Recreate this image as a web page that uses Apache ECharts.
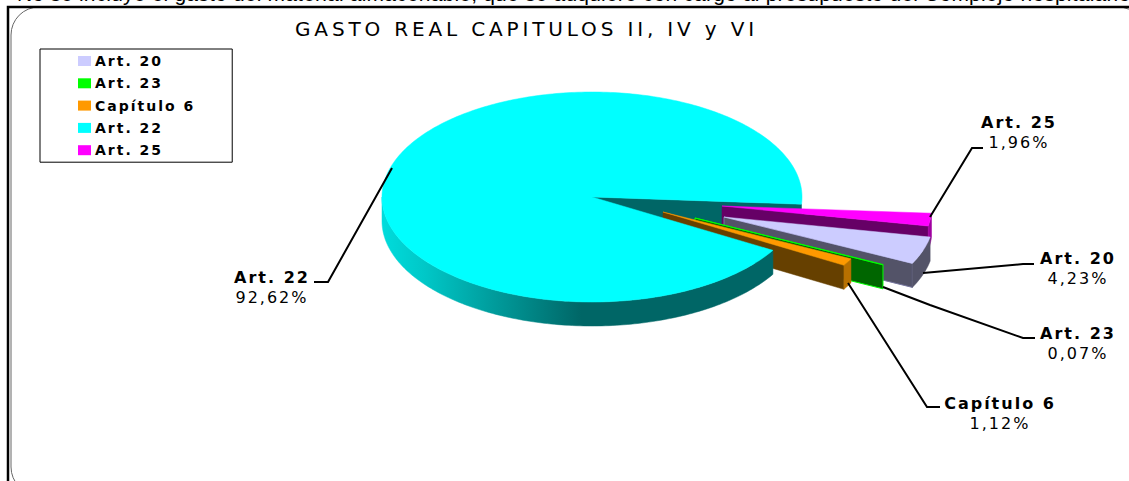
<!DOCTYPE html>
<html>
<head>
<meta charset="utf-8"/>
<title>GASTO REAL CAPITULOS II, IV y VI</title>
<script src="https://cdn.jsdelivr.net/npm/echarts@6/dist/echarts.min.js"></script>
<style>
	html,body{margin:0;padding:0;background:#fff;overflow:hidden;}
	#main{width:1129px;height:481px;}
	#main text{letter-spacing:2px;}
	#main text[style*="20px"]{letter-spacing:3.85px;}
	#main text[style*="21px"]{letter-spacing:0.2px;}
</style>
</head>
<body>
<div id="main"></div>
<script type="text/javascript">
	// data, in legend order (also the clockwise order of the slices)
	var categories = ['Art. 20', 'Art. 23', 'Capítulo 6', 'Art. 22', 'Art. 25'];
	var values = [4.23, 0.07, 1.12, 92.62, 1.96];
	var valueLabels = ['4,23%', '0,07%', '1,12%', '92,62%', '1,96%'];

	// look of each slice
	var topColors = ['#ccccff', '#00ff00', '#ff9900', '#00ffff', '#ff00ff'];
	var cutColors = ['#535368', '#006600', '#664000', '#006666', '#660066'];
	var rimColors = ['#535368', '#006600', '#b87000', '#006666', '#a000a0'];
	var explode = [[132, 20], [103, 21], [71, 15], [0, 0], [130, 9]];

	// pie layout
	var cx = 592, cy = 197, rx = 210, ry = 105, depth = 24;
	var startAngle = 11;

	// leader lines and text of each slice
	var leaders = [
		[[923, 273], [1023, 264], [1034, 264]],
		[[883, 287], [930, 305], [1023, 338], [1035, 338]],
		[[848, 283], [878, 330], [927, 407], [940, 407]],
		[[392, 168], [328, 282], [314, 282]],
		[[930, 217], [972, 148], [983, 148]]
	];
	var labelPos = [[1078, 268], [1078, 343], [1000, 413], [272, 287], [1019, 132]];

	var total = values.reduce(function(a, b){ return a + b; }, 0);
	var angles = [], acc = startAngle;
	values.forEach(function(v){
		angles.push([acc, acc + v / total * 360]);
		acc += v / total * 360;
	});

	function rimPoint(i, deg, down){
		var r = deg * Math.PI / 180;
		return [
			cx + explode[i][0] + rx * Math.cos(r),
			cy + explode[i][1] + ry * Math.sin(r) + (down ? depth : 0)
		];
	}
	function tip(i, down){
		return [cx + explode[i][0], cy + explode[i][1] + (down ? depth : 0)];
	}
	function arc(i, a0, a1, down){
		var pts = [];
		var n = Math.max(2, Math.ceil(Math.abs(a1 - a0)));
		for (var k = 0; k <= n; k++) {
			pts.push(rimPoint(i, a0 + (a1 - a0) * k / n, down));
		}
		return pts;
	}
	function poly(points, fill, z2, stroke){
		return {
			type: 'polygon', z2: z2, silent: true,
			shape: {points: points},
			style: {fill: fill, stroke: stroke || fill, lineWidth: stroke ? 1 : 0.5}
		};
	}
	function cutWall(i, deg, z2, stroke){
		return poly([tip(i), rimPoint(i, deg), rimPoint(i, deg, true), tip(i, true)], cutColors[i], z2, stroke);
	}
	function rimWall(i, a0, a1, z2, fill){
		return poly(arc(i, a0, a1).concat(arc(i, a1, a0, true)), fill || rimColors[i], z2);
	}
	function topFace(i, z2){
		return poly([tip(i)].concat(arc(i, angles[i][0], angles[i][1])), topColors[i], z2);
	}

	var wallShade = {
		type: 'linear', x: cx - rx, y: 0, x2: cx, y2: 0, global: true,
		colorStops: [
			{offset: 0, color: '#00dcdc'},
			{offset: 0.2, color: '#00c8c8'},
			{offset: 0.5, color: '#00a0a0'},
			{offset: 0.95, color: '#006666'},
			{offset: 1, color: '#006666'}
		]
	};

	// each slice gives its faces, the z2 keeps the order of the exploded pieces
	function sliceFaces(i){
		var a = angles[i];
		if (i === 3) {
			return [
				cutWall(i, a[1], 1),
				rimWall(i, a[0], 180, 20, wallShade),
				topFace(i, 21)
			];
		}
		if (i === 4) {
			return [cutWall(i, a[1], 2), rimWall(i, a[0], a[1], 3), topFace(i, 4)];
		}
		if (i === 0) {
			return [
				cutWall(i, a[1], 5, '#7777a0'),
				rimWall(i, a[0], a[1], 6),
				topFace(i, 7)
			];
		}
		if (i === 1) {
			return [cutWall(i, a[1], 10, topColors[i]), topFace(i, 30)];
		}
		return [
			cutWall(i, a[1], 11),
			rimWall(i, a[0], a[1], 31),
			topFace(i, 32)
		];
	}

	function renderSlice(params){
		var i = params.seriesIndex;
		var children = sliceFaces(i);
		children.push({
			type: 'polyline', z2: 40, silent: true,
			shape: {points: leaders[i]},
			style: {fill: null, stroke: '#000', lineWidth: 2}
		});
		children.push({
			type: 'text', z2: 41, silent: true,
			style: {
				text: categories[i],
				x: labelPos[i][0], y: labelPos[i][1] - 10,
				align: 'center', verticalAlign: 'middle',
				fill: '#000', font: 'bold 16px "DejaVu Sans"'
			}
		});
		children.push({
			type: 'text', z2: 41, silent: true,
			style: {
				text: valueLabels[i],
				x: labelPos[i][0], y: labelPos[i][1] + 10,
				align: 'center', verticalAlign: 'middle',
				fill: '#000', font: '16px "DejaVu Sans"'
			}
		});
		return {type: 'group', children: children};
	}

	var series = categories.map(function(name, i){
		return {
			name: name,
			type: 'custom',
			coordinateSystem: 'none',
			silent: true,
			animation: false,
			itemStyle: {color: topColors[i]},
			renderItem: renderSlice,
			data: [{name: name, value: values[i]}]
		};
	});

	var option = {
		backgroundColor: '#fff',
		animation: false,
		title: {
			text: 'GASTO REAL CAPITULOS II, IV y VI',
			left: 295, top: 19,
			padding: 0,
			textStyle: {fontFamily: 'DejaVu Sans', fontSize: 20, fontWeight: 'normal', color: '#000'}
		},
		legend: {
			orient: 'vertical',
			left: 40, top: 49,
			padding: [5, 57, 5, 38],
			itemWidth: 13, itemHeight: 10, itemGap: 8.3,
			selectedMode: false,
			borderColor: '#000', borderWidth: 1,
			icon: 'rect',
			textStyle: {fontFamily: 'DejaVu Sans', fontSize: 14, fontWeight: 'bold', color: '#000', padding: [0, 0, 0, -1]},
			data: categories
		},
		graphic: [
			{
				type: 'text', left: 17, top: -17, silent: true,
				style: {
					text: 'No se incluye el gasto del material almacenable, que se adquiere con cargo al presupuesto del Complejo hospitalario',
					font: '21px "Liberation Sans"', fill: '#000'
				}
			},
			{
				type: 'rect', silent: true,
				shape: {x: 11, y: 7, width: 1135, height: 488, r: 28},
				style: {fill: 'none', stroke: '#666', lineWidth: 1}
			},
			{
				type: 'polyline', silent: true,
				shape: {points: [[8, 481], [8, 7], [1129, 7]]},
				style: {fill: null, stroke: '#000', lineWidth: 2.5}
			}
		],
		series: series
	};

	var chart = echarts.init(document.getElementById('main'), null, {renderer: 'svg'});
	chart.setOption(option);
</script>
</body>
</html>
